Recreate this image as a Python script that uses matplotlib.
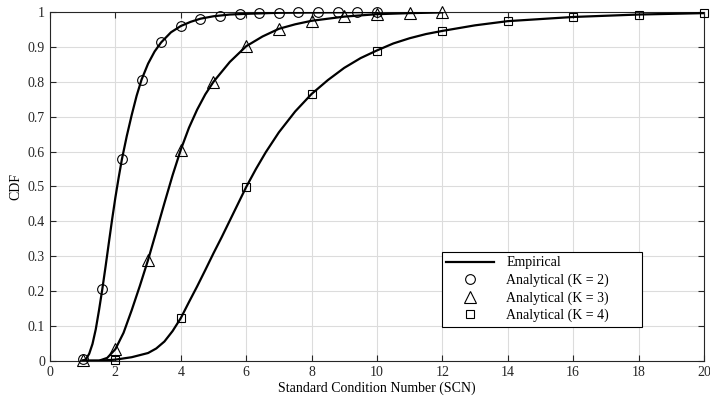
import numpy as np
import matplotlib.pyplot as plt
from matplotlib.lines import Line2D

plt.rcParams['font.family'] = ['Liberation Serif', 'DejaVu Serif']
plt.rcParams['font.size'] = 10

# empirical CDF curves
emp2_x = [1.0, 1.1, 1.2, 1.3, 1.4, 1.5, 1.6, 1.7, 1.8, 1.9, 2.0, 2.1, 2.2, 2.35, 2.5, 2.65, 2.8, 3.0, 3.2, 3.4,
          3.7, 4.0, 4.3, 4.6, 5.0, 5.5, 6.0, 7.0, 8.5, 10.0]
emp2_y = [0.0, 0.004, 0.02, 0.048, 0.09, 0.145, 0.205, 0.27, 0.338, 0.405, 0.468, 0.525, 0.578, 0.645, 0.705, 0.76,
          0.806, 0.852, 0.887, 0.913, 0.942, 0.96, 0.972, 0.981, 0.988, 0.993, 0.995, 0.998, 0.999, 1.0]

emp3_x = [1.0, 1.5, 1.75, 2.0, 2.25, 2.5, 2.75, 3.0, 3.25, 3.5, 3.75, 4.0, 4.25, 4.5, 4.75, 5.0, 5.5, 6.0,
          6.5, 7.0, 7.5, 8.0, 9.0, 10.0, 11.0, 12.0]
emp3_y = [0.0, 0.0, 0.008, 0.033, 0.08, 0.145, 0.215, 0.289, 0.37, 0.452, 0.532, 0.605, 0.668, 0.72, 0.764, 0.8,
          0.857, 0.902, 0.93, 0.952, 0.965, 0.975, 0.987, 0.994, 0.997, 0.999]

emp4_x = [1.0, 1.5, 2.0, 2.5, 3.0, 3.25, 3.5, 3.75, 4.0, 4.25, 4.5, 4.75, 5.0, 5.25, 5.5, 5.75, 6.0, 6.3, 6.6,
          7.0, 7.5, 8.0, 8.5, 9.0, 9.5, 10.0, 10.5, 11.0, 11.5, 12.0, 13.0, 14.0, 15.0, 16.0, 18.0, 20.0]
emp4_y = [0.0, 0.0, 0.003, 0.01, 0.022, 0.035, 0.055, 0.085, 0.122, 0.168, 0.213, 0.26, 0.308, 0.354, 0.402,
          0.45, 0.498, 0.55, 0.598, 0.655, 0.715, 0.765, 0.805, 0.84, 0.868, 0.89, 0.91, 0.925, 0.937, 0.946,
          0.962, 0.974, 0.98, 0.986, 0.993, 0.997]

# analytical points
k2_x = [1.0, 1.6, 2.2, 2.8, 3.4, 4.0, 4.6, 5.2, 5.8, 6.4, 7.0, 7.6, 8.2, 8.8, 9.4, 10.0]
k2_y = [0.005, 0.205, 0.578, 0.805, 0.913, 0.96, 0.981, 0.99, 0.994, 0.997, 0.998, 0.999, 0.999, 1.0, 1.0, 1.0]

k3_x = [1, 2, 3, 4, 5, 6, 7, 8, 9, 10, 11, 12]
k3_y = [0.003, 0.033, 0.289, 0.605, 0.80, 0.902, 0.952, 0.975, 0.988, 0.995, 0.998, 0.999]

k4_x = [2, 4, 6, 8, 10, 12, 14, 16, 18, 20]
k4_y = [0.003, 0.122, 0.498, 0.765, 0.889, 0.946, 0.974, 0.986, 0.993, 0.996]

fig = plt.figure(figsize=(7.1, 4.03), dpi=100)
ax = fig.add_axes([0.0704, 0.105, 0.921, 0.865])

for ex, ey in [(emp2_x, emp2_y), (emp3_x, emp3_y), (emp4_x, emp4_y)]:
    ax.plot(ex, ey, color='black', lw=1.6, zorder=3, solid_joinstyle='round')

mk = dict(ls='none', mfc='none', mec='black', mew=0.8, clip_on=False, zorder=4)
ax.plot(k2_x, k2_y, marker='o', ms=7, **mk)
ax.plot(k3_x, k3_y, marker='^', ms=8, **mk)
ax.plot(k4_x, k4_y, marker='s', ms=6, **mk)

ax.set_xlim(0, 20)
ax.set_ylim(0, 1)
ax.set_xticks(np.arange(0, 21, 2))
ax.set_yticks(np.arange(0, 1.01, 0.1))
ax.set_yticklabels(['0', '0.1', '0.2', '0.3', '0.4', '0.5', '0.6', '0.7', '0.8', '0.9', '1'])
ax.grid(True, color='#dcdcdc', lw=0.8)
ax.set_axisbelow(True)
ax.tick_params(direction='in', top=True, right=True, length=4, colors='#262626', labelsize=10)
for s in ax.spines.values():
    s.set_color('#262626')
    s.set_linewidth(0.8)

ax.set_xlabel('Standard Condition Number (SCN)', fontsize=10, labelpad=2)
ax.set_ylabel('CDF', fontsize=10, labelpad=4)

handles = [
    Line2D([], [], color='black', lw=1.6),
    Line2D([], [], ls='none', marker='o', ms=7, mfc='none', mec='black', mew=0.8),
    Line2D([], [], ls='none', marker='^', ms=8, mfc='none', mec='black', mew=0.8),
    Line2D([], [], ls='none', marker='s', ms=6, mfc='none', mec='black', mew=0.8),
]
pad = '\u2007' * 4
labels = ['Empirical', 'Analytical (K = 2)' + pad, 'Analytical (K = 3)' + pad, 'Analytical (K = 4)' + pad]
leg = ax.legend(handles, labels, loc='lower right', bbox_to_anchor=(0.905, 0.096),
                fancybox=False, framealpha=1, edgecolor='black', fontsize=10,
                borderpad=0.35, labelspacing=0.3, handlelength=3.45, handletextpad=0.85,
                borderaxespad=0)
leg.get_frame().set_linewidth(0.8)

fig.savefig('out.png', dpi=100)
